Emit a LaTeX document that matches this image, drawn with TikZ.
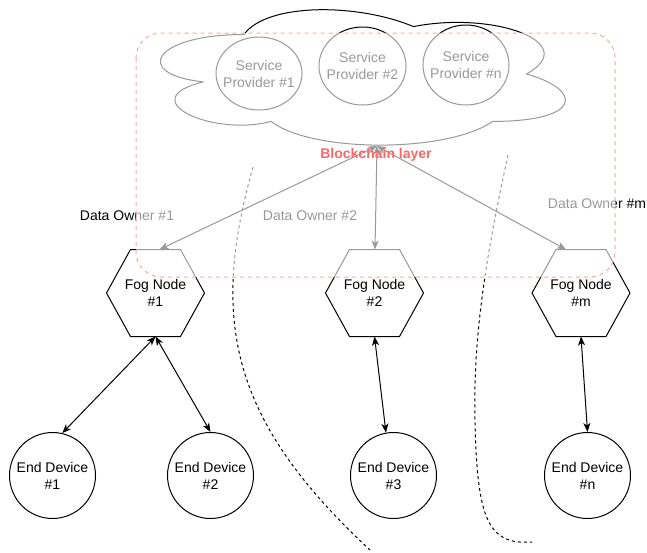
\documentclass[tikz,border=0pt]{standalone}
\usepackage{fontspec}
\setmainfont{Liberation Sans}
\usetikzlibrary{arrows.meta,calc}
\definecolor{bcred}{HTML}{FF6666}
\definecolor{pinkline}{HTML}{FFA3A3}
\begin{document}
\begin{tikzpicture}[x=1pt,y=-1pt,line width=1pt,line join=round,
  lbl/.style={font=\fontsize{14}{17}\selectfont,align=center,inner sep=0pt},
  hexbox/.style={lbl,minimum width=97pt,minimum height=86pt},
  devnode/.style={lbl,circle,draw,fill=white,minimum size=86pt},
  spshape/.style={draw,fill=white},
  arr/.style={{Stealth[length=9pt,width=7pt,inset=2.5pt]}-{Stealth[length=9pt,width=7pt,inset=2.5pt]}},
  partline/.style={dash pattern=on 3pt off 3pt},
  overlay/.style={draw=pinkline,dash pattern=on 4pt off 4pt,fill=white,fill opacity=0.6,rounded corners=25pt}
]
\useasboundingbox (0,0) rectangle (647,552);
\fill[white] (0,0) rectangle (647,552);

% partition lines
\draw[partline] (253,167) .. controls (210,320) and (230,420) .. (370,550);
\draw[partline] (508,155) .. controls (485,260) and (473,340) .. (475,420)
  .. controls (477,520) and (488,545) .. (532,542);

% cloud
\draw[fill=white] (244,34.5) .. controls (153.6,34.5) and (131,74) .. (203.3,81.9)
  .. controls (131,99.3) and (212.4,137.2) .. (271.1,121.4)
  .. controls (311.8,153) and (447.4,153) .. (492.6,121.4)
  .. controls (583,121.4) and (583,89.8) .. (526.5,74)
  .. controls (583,42.4) and (492.6,10.8) .. (413.5,26.6)
  .. controls (357,2.9) and (266.6,2.9) .. cycle;
\coordinate (cb) at (377,146);

% service providers
\draw[spshape] (259,73.5) ellipse [x radius=43, y radius=36.5];
\draw[spshape] (362.5,66) ellipse [x radius=43.5, y radius=39];
\draw[spshape] (466,65) ellipse [x radius=43, y radius=40];
\node[lbl] (sp1) at (259,73.5) {Service\\Provider \#1};
\node[lbl] (sp2) at (362.5,66) {Service\\Provider \#2};
\node[lbl] (spn) at (466,65) {Service\\Provider \#n};

% fog nodes
\foreach \n/\x/\t in {f1/155.5/\#1, f2/374.5/\#2, fm/581/\#m}{
  \node[hexbox] (\n) at (\x,293) {Fog Node\\\t};
  \draw (\n.west) -- ($(\n.north west)+(24,0)$) -- ($(\n.north east)+(-24,0)$)
    -- (\n.east) -- ($(\n.south east)+(-24,0)$) -- ($(\n.south west)+(24,0)$) -- cycle;
}

% end devices
\node[devnode] (e1) at (52.5,475.5) {End Device\\\#1};
\node[devnode] (e2) at (210.5,475.5) {End Device\\\#2};
\node[devnode] (e3) at (393.5,475.5) {End Device\\\#3};
\node[devnode] (en) at (587.5,475.5) {End Device\\\#n};

% fog to device arrows
\draw[arr] (f1.south) -- (e1.77);
\draw[arr] (f1.south) -- (e2.north);
\draw[arr] (f2.south) -- (e3.100);
\draw[arr] (fm.south) -- (en.north);

% cloud to fog arrows
\draw[arr] (cb) -- ($(f1.north)+(4,0)$);
\draw[arr] (cb) -- ($(f2.north)+(0.5,0)$);
\draw[arr] (cb) -- ($(fm.north)+(-15,0)$);

% data owner labels
\node[lbl] (do1) at (127,216) {Data Owner \#1};
\node[lbl] (do2) at (310,216) {Data Owner \#2};
\node[lbl] (dom) at (597,204) {Data Owner \#m};

% blockchain layer overlay
\path[overlay] (136,33) rectangle (615,277);
\node[lbl,font=\fontsize{14}{17}\selectfont\bfseries,text=bcred] (bl) at (376,155) {Blockchain layer};
\end{tikzpicture}
\end{document}
